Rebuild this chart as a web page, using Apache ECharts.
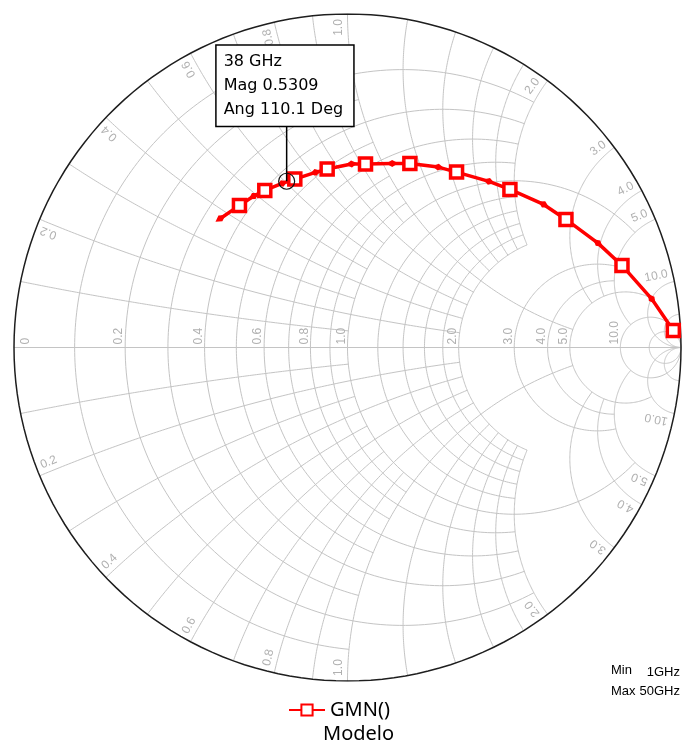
<!DOCTYPE html>
<html>
<head>
<meta charset="utf-8">
<script src="https://cdn.jsdelivr.net/npm/echarts@6/dist/echarts.min.js"></script>
<style>
html, body { margin: 0; padding: 0; background: #fff; }
#chart { width: 688px; height: 749px; }
</style>
</head>
<body>
<div id="chart"></div>
<script>
// GMN() reflection coefficient, sweep 1 GHz -> 50 GHz (real / imag parts)
var gammaRe = [0.977, 0.912, 0.823, 0.751, 0.655, 0.588, 0.487, 0.424, 0.327, 0.272, 0.187,
               0.134, 0.054, 0.012, -0.061, -0.096, -0.158, -0.196, -0.248, -0.281, -0.324, -0.381];
var gammaIm = [0.051, 0.146, 0.246, 0.313, 0.384, 0.429, 0.474, 0.498, 0.526, 0.541, 0.552,
               0.552, 0.550, 0.550, 0.535, 0.525, 0.505, 0.492, 0.471, 0.454, 0.426, 0.387];

// marker readout
var markerFreq = '38 GHz';
var markerMag = 0.5309;
var markerAng = 110.1;
var sweepMin = '1GHz';
var sweepMax = '50GHz';

// labels
var resLabels = [0, 0.2, 0.4, 0.6, 0.8, 1.0, 2.0, 3.0, 4.0, 5.0, 10.0];
var reactLabels = [0.2, 0.4, 0.6, 0.8, 1.0, 2.0, 3.0, 4.0, 5.0, 10.0];

// smith grid: values and how far each circle / arc runs
var gridValues = [
    [0.1, 0.3, 0.5, 0.7, 0.9],
    [0.2, 0.4, 0.6, 0.8, 1.2, 1.4, 1.6, 1.8, 2.0],
    [1.0, 3.0, 4.0],
    [5.0],
    [10.0, 20.0]
];
var gridLimits = [1, 2, 5, 10, Infinity];

var BIG = 1e6;
var RPX = 333.5;          // chart radius in px
var gridColor = '#c4c4c4';
var labelColor = '#b0b0b0';
var labelFont = '12px "Liberation Sans"';

// z = r + jx  ->  gamma
function gam(r, x) {
    var d = (r + 1) * (r + 1) + x * x;
    return [(r * r + x * x - 1) / d, 2 * x / d];
}

// constant r circle, |x| <= xLim
function rCircle(r, xLim) {
    var pts = [], n = 180;
    var lim = Math.atan((xLim === Infinity ? BIG : xLim) / (r + 1));
    for (var i = 0; i <= n; i++) {
        var v = -lim + 2 * lim * i / n;
        pts.push(gam(r, (r + 1) * Math.tan(v)));
    }
    return pts;
}

// constant x arc, 0 <= r <= rLim
function xArc(x, rLim) {
    var pts = [], n = 140, ax = Math.abs(x);
    var a0 = Math.atan(ax / ((rLim === Infinity ? BIG : rLim) + 1)), a1 = Math.atan(ax);
    for (var i = 0; i <= n; i++) {
        var w = a1 - (a1 - a0) * i / n;
        var r = ax / Math.tan(w) - 1;
        pts.push(gam(Math.max(r, 0), x));
    }
    return pts;
}

var gridLines = [];
gridValues.forEach(function (vals, gi) {
    var lim = gridLimits[gi];
    vals.forEach(function (v) {
        gridLines.push({coords: rCircle(v, lim)});
        gridLines.push({coords: xArc(v, lim)});
        gridLines.push({coords: xArc(-v, lim)});
    });
});
gridLines.push({coords: [gam(0, 0), gam(BIG, 0)]});

var outline = [{coords: rCircle(0, Infinity)}];

// grid labels: point, pixel nudge, rotation, alignment
var labelItems = [];
resLabels.forEach(function (r) {
    labelItems.push({
        value: gam(r, 0), text: r === 0 ? '0' : r.toFixed(1),
        dx: r === 0 ? 12 : -6, dy: -3, rot: 90, align: 'left'
    });
});
var rimR = 1 - 5 / RPX;
reactLabels.forEach(function (v) {
    [1, -1].forEach(function (s) {
        var p = gam(0, s * v);
        var th = Math.atan2(p[1], p[0]);
        var ta = th + s * (9 / RPX / rimR);
        var deg = th * 180 / Math.PI;
        labelItems.push({
            value: [rimR * Math.cos(ta), rimR * Math.sin(ta)], text: v.toFixed(1),
            dx: 0, dy: 0, rot: s > 0 ? deg : deg + 180, align: s > 0 ? 'right' : 'left'
        });
    });
});

// trace points: squares on even points, small arrows between
var traceData = gammaRe.map(function (re, i) {
    if (i % 2 === 0) return [re, gammaIm[i]];
    var a = Math.min(i + 1, gammaRe.length - 1), b = i - 1;
    var ang = Math.atan2(gammaIm[a] - gammaIm[b], gammaRe[a] - gammaRe[b]) * 180 / Math.PI;
    return {
        value: [re, gammaIm[i]],
        symbol: 'diamond', symbolSize: [7, 12], symbolRotate: ang - 90,
        itemStyle: {color: '#ff0000', borderWidth: 0}
    };
});

var mkRe = markerMag * Math.cos(markerAng * Math.PI / 180);
var mkIm = markerMag * Math.sin(markerAng * Math.PI / 180);

var txt = {font: '13px "Liberation Sans"', fill: '#000'};

var chart = echarts.init(document.getElementById('chart'));
chart.setOption({
    animation: false,
    backgroundColor: '#fff',
    grid: {left: 14, top: 14, width: 667, height: 667},
    xAxis: {type: 'value', min: -1, max: 1, show: false},
    yAxis: {type: 'value', min: -1, max: 1, show: false},
    legend: {
        data: ['GMN()'],
        left: 283, top: 695,
        itemWidth: 36, itemHeight: 14,
        textStyle: {fontFamily: 'Noto Sans', fontSize: 20, color: '#000'}
    },
    graphic: [
        {type: 'text', left: 323, top: 724, style: {text: 'Modelo', font: '20px "Noto Sans"', fill: '#000'}},
        {type: 'text', left: 611, top: 664, style: Object.assign({text: 'Min'}, txt)},
        {type: 'text', right: 8, top: 666, style: Object.assign({text: sweepMin}, txt)},
        {type: 'text', left: 611, top: 685, style: Object.assign({text: 'Max'}, txt)},
        {type: 'text', right: 8, top: 685, style: Object.assign({text: sweepMax}, txt)}
    ],
    series: [
        {
            type: 'lines', coordinateSystem: 'cartesian2d', polyline: true, silent: true, z: 1,
            lineStyle: {color: gridColor, width: 1, opacity: 1},
            data: gridLines
        },
        {
            type: 'lines', coordinateSystem: 'cartesian2d', polyline: true, silent: true, z: 2,
            lineStyle: {color: '#1e1e1e', width: 1.5, opacity: 1},
            data: outline
        },
        {
            type: 'custom', silent: true, z: 3,
            data: labelItems.map(function (it) { return it.value; }),
            renderItem: function (params, api) {
                var it = labelItems[params.dataIndex];
                var c = api.coord(it.value);
                return {
                    type: 'text',
                    x: c[0] + it.dx, y: c[1] + it.dy,
                    rotation: it.rot * Math.PI / 180,
                    style: {text: it.text, font: labelFont, fill: labelColor, align: it.align, verticalAlign: 'middle'}
                };
            }
        },
        {
            name: 'GMN()', type: 'line', z: 5,
            symbol: 'rect', symbolSize: 12,
            itemStyle: {color: '#ffffff', borderColor: '#ff0000', borderWidth: 3.5},
            lineStyle: {color: '#ff0000', width: 3.5},
            data: traceData
        },
        {
            type: 'lines', coordinateSystem: 'cartesian2d', polyline: true, silent: true, z: 6,
            lineStyle: {color: '#000', width: 1.5, opacity: 1},
            data: [{coords: [[mkRe, mkIm], [mkRe, mkIm + 0.17]]}]
        },
        {
            type: 'scatter', z: 7, silent: true,
            symbol: 'circle', symbolSize: 16,
            itemStyle: {color: 'rgba(255,255,255,0)', borderColor: '#111', borderWidth: 1.2, opacity: 1},
            label: {
                show: true, position: 'top', distance: 47, align: 'left', offset: [-70, 0],
                formatter: [markerFreq, 'Mag ' + markerMag.toFixed(4), 'Ang ' + markerAng.toFixed(1) + ' Deg'].join('\n'),
                fontFamily: 'DejaVu Sans', fontSize: 16, lineHeight: 24, color: '#000', opacity: 1,
                backgroundColor: '#fff', borderColor: '#000', borderWidth: 1.5, padding: [4, 10, 4, 7]
            },
            data: [[mkRe, mkIm]]
        }
    ]
});
</script>
</body>
</html>
